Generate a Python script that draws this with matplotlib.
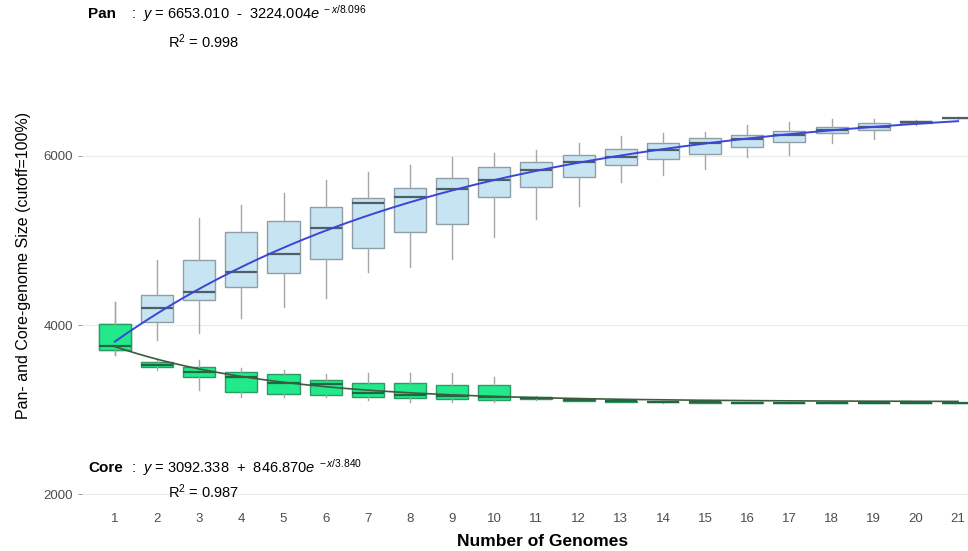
import numpy as np
import matplotlib
matplotlib.use("Agg")
import matplotlib.pyplot as plt

plt.rcParams["font.family"] = ["Liberation Sans", "DejaVu Sans"]
plt.rcParams["mathtext.fontset"] = "custom"
plt.rcParams["mathtext.rm"] = "Liberation Sans"
plt.rcParams["mathtext.it"] = "Liberation Sans:italic"

genomes = list(range(1, 22))

# Pan-genome size distribution per number of genomes
pan_low = [3650, 3822, 3905, 4083, 4213, 4320, 4627, 4686, 4781, 5041, 5254,
           5408, 5692, 5775, 5846, 5988, 6012, 6154, 6201, 6370, 6440]
pan_q1 = [3704, 4036, 4296, 4450, 4615, 4781, 4911, 5101, 5195, 5515, 5633,
          5751, 5893, 5964, 6024, 6107, 6166, 6272, 6308, 6390, 6445]
pan_med = [3751, 4201, 4391, 4627, 4840, 5148, 5444, 5515, 5609, 5716, 5834,
           5929, 5988, 6071, 6154, 6201, 6249, 6308, 6343, 6400, 6450]
pan_q3 = [4012, 4355, 4769, 5101, 5231, 5396, 5503, 5621, 5740, 5870, 5929,
          6012, 6083, 6154, 6213, 6249, 6296, 6343, 6391, 6410, 6455]
pan_high = [4272, 4769, 5266, 5420, 5562, 5716, 5811, 5893, 5988, 6036, 6071,
            6154, 6237, 6272, 6284, 6367, 6402, 6438, 6438, 6430, 6460]

# Core-genome size distribution per number of genomes
core_low = [3650, 3470, 3231, 3148, 3148, 3148, 3112, 3089, 3089, 3089, 3110,
            3098, 3090, 3082, 3080, 3078, 3077, 3076, 3076, 3075, 3075]
core_q1 = [3704, 3503, 3385, 3207, 3183, 3172, 3148, 3136, 3124, 3112, 3125,
           3105, 3094, 3085, 3082, 3080, 3079, 3078, 3077, 3076, 3076]
core_med = [3751, 3527, 3444, 3385, 3314, 3302, 3195, 3172, 3160, 3148, 3136,
            3112, 3100, 3089, 3085, 3082, 3080, 3079, 3078, 3077, 3077]
core_q3 = [4012, 3562, 3503, 3444, 3420, 3349, 3314, 3314, 3290, 3290, 3145,
           3120, 3106, 3094, 3088, 3084, 3082, 3080, 3079, 3078, 3078]
core_high = [4272, 3600, 3586, 3491, 3467, 3420, 3432, 3432, 3432, 3385, 3160,
             3130, 3112, 3100, 3092, 3088, 3085, 3082, 3080, 3079, 3079]

# Fitted models
pan_fit = (6653.010, 3224.004, 8.096)
pan_r2 = 0.998
core_fit = (3092.338, 846.870, 3.840)
core_r2 = 0.987

y_ticks = [2000, 4000, 6000]


def stats(low, q1, med, q3, high):
    return [dict(whislo=a, q1=b, med=c, q3=d, whishi=e, fliers=[])
            for a, b, c, d, e in zip(low, q1, med, q3, high)]


fig = plt.figure(figsize=(9.68, 5.51), dpi=100)
ax = fig.add_axes([82 / 968, 46 / 551, 886 / 968, 505 / 551])

whisk = "#a6a6a6"
ax.bxp(stats(pan_low, pan_q1, pan_med, pan_q3, pan_high), positions=genomes,
       widths=0.76, patch_artist=True, showfliers=False, showcaps=False,
       boxprops=dict(facecolor="#c7e4f2", edgecolor="#8f9ea6", linewidth=1.0),
       medianprops=dict(color="#4f5f68", linewidth=1.6),
       whiskerprops=dict(color=whisk, linewidth=1.0), zorder=2)
ax.bxp(stats(core_low, core_q1, core_med, core_q3, core_high), positions=genomes,
       widths=0.76, patch_artist=True, showfliers=False, showcaps=False,
       boxprops=dict(facecolor="#22e98a", edgecolor="#2a9b62", linewidth=1.0),
       medianprops=dict(color="#1b6a42", linewidth=1.6),
       whiskerprops=dict(color=whisk, linewidth=1.0), zorder=3)

xs = np.linspace(1, 21, 300)
a, b, c = pan_fit
ax.plot(xs, a - b * np.exp(-xs / c), color="#3b45d6", linewidth=1.4, zorder=4)
a, b, c = core_fit
ax.plot(xs, a + b * np.exp(-xs / c), color="#3e5a40", linewidth=1.2, zorder=4)

ax.set_xlim(0.22, 21.237)
ax.set_ylim(1870, 7846)
ax.set_xticks(genomes)
ax.set_xticklabels([str(g) for g in genomes])
ax.set_yticks(y_ticks)
ax.set_yticklabels([str(t) for t in y_ticks])
ax.grid(axis="y", color="#ebebeb", linewidth=0.8, zorder=0)
ax.set_axisbelow(True)
for s in ax.spines.values():
    s.set_visible(False)
ax.tick_params(axis="both", colors="#9a9a9a", labelcolor="#4d4d4d",
               labelsize=9.5, length=3, width=0.7)
ax.tick_params(axis="x", length=0, pad=6)

ax.set_xlabel("Number of Genomes", fontsize=12.5, fontweight="bold")
ax.xaxis.set_label_coords((543 - 82) / 886, -(534 - 505) / 505)
ax.set_ylabel("Pan- and Core-genome Size (cutoff=100%)", fontsize=11.5)
ax.yaxis.set_label_coords((31 - 82) / 886, (505 - 265) / 505)

fs = 10.5
a, b, c = pan_fit
ax.text(0.36, 7680, "Pan", fontsize=fs + 0.5, fontweight="bold", va="center", ha="left")
ax.text(1.38, 7680, r":  $y$ = %.3f  -  %.3f$e^{\ -x/%.3f}$" % (a, b, c),
        fontsize=fs, va="center", ha="left")
ax.text(2.26, 7349, r"R$^2$ = %.3f" % pan_r2, fontsize=fs, va="center", ha="left")

a, b, c = core_fit
ax.text(0.36, 2308, "Core", fontsize=fs + 0.5, fontweight="bold", va="center", ha="left")
ax.text(1.38, 2308, r":  $y$ = %.3f  +  %.3f$e^{\ -x/%.3f}$" % (a, b, c),
        fontsize=fs, va="center", ha="left")
ax.text(2.26, 2024, r"R$^2$ = %.3f" % core_r2, fontsize=fs, va="center", ha="left")

fig.savefig("out.png", dpi=100, facecolor="white")
